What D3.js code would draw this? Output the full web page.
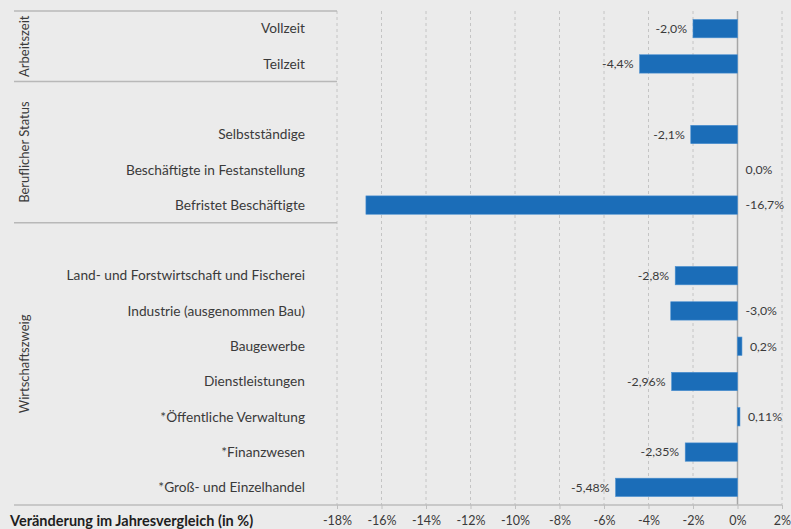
<!DOCTYPE html>
<html><head><meta charset="utf-8">
<script src="https://cdn.jsdelivr.net/npm/d3@7"></script>
<style>
html,body{margin:0;padding:0;background:#ebebeb;}
svg{display:block;font-family:Lato,"Open Sans",sans-serif;}
</style></head><body>
<svg id="c" width="791" height="529"></svg>
<script>
// ---- data ----
const categories = ["Vollzeit","Teilzeit","","Selbstständige","Beschäftigte in Festanstellung","Befristet Beschäftigte","","Land- und Forstwirtschaft und Fischerei","Industrie (ausgenommen Bau)","Baugewerbe","Dienstleistungen","*Öffentliche Verwaltung","*Finanzwesen","*Groß- und Einzelhandel"];
const values = [-2.0,-4.4,null,-2.1,0.0,-16.7,null,-2.8,-3.0,0.2,-2.96,0.11,-2.35,-5.48];
const valueLabels = ["-2,0%","-4,4%","","-2,1%","0,0%","-16,7%","","-2,8%","-3,0%","0,2%","-2,96%","0,11%","-2,35%","-5,48%"];
const labelSide = ["left","left","","left","right","right","","left","right","right","left","right","left","left"];
const groups = [
  {name:"Arbeitszeit", from:0, to:1},
  {name:"Beruflicher Status", from:2, to:5},
  {name:"Wirtschaftszweig", from:6, to:13}
];
const xTicks = [-18,-16,-14,-12,-10,-8,-6,-4,-2,0,2];
const xTickLabels = ["-18%","-16%","-14%","-12%","-10%","-8%","-6%","-4%","-2%","0%","2%"];
const axisTitle = "Veränderung im Jahresvergleich (in %)";

// ---- layout ----
const svg = d3.select("#c");
const x = d3.scaleLinear().domain([-18,2]).range([337,782]);
const idx = d3.range(categories.length);
const y = d3.scaleBand().domain(idx).range([11,505]).paddingInner(0.48).paddingOuter(0.24);
const band = d3.scaleBand().domain(idx).range([11,505]);
const textCol = "#3a3a3a";

// grid lines
svg.append("g").selectAll("line").data(xTicks).join("line")
  .attr("x1",d=>x(d)).attr("x2",d=>x(d)).attr("y1",11).attr("y2",505)
  .attr("stroke",d=>d===0?"#a6a6a6":"#c4c4c4")
  .attr("stroke-width",d=>d===0?1.5:1)
  .attr("stroke-dasharray",d=>d===0?null:"3,3");

// group separators
const sepYs = [11].concat(groups.slice(0,-1).map(g=>band(g.to)+band.bandwidth()));
svg.append("g").selectAll("line").data(sepYs).join("line")
  .attr("x1",14).attr("x2",337).attr("y1",d=>d).attr("y2",d=>d)
  .attr("stroke","#b8b8b8").attr("stroke-width",1.5);

// x axis
const ax = svg.append("g").attr("transform","translate(0,505)")
  .call(d3.axisBottom(x).tickValues(xTicks).tickFormat((d,i)=>xTickLabels[i]).tickSize(4).tickSizeOuter(0));
ax.select(".domain").remove();
ax.selectAll(".tick line").attr("stroke","#bfbfbf");
ax.selectAll(".tick text").attr("fill",textCol).attr("font-size",12.5).attr("font-family","Lato,sans-serif").attr("dy","1.05em");
svg.append("line").attr("x1",14).attr("x2",782).attr("y1",505).attr("y2",505).attr("stroke","#bdbdbd").attr("stroke-width",1.5);

// axis title
svg.append("text").attr("x",10).attr("y",526).attr("font-weight","bold").attr("font-size",14.5).attr("fill","#1e1e1e").text(axisTitle);

// category labels
svg.append("g").selectAll("text").data(idx.filter(i=>categories[i])).join("text")
  .attr("x",305).attr("y",i=>band(i)+band.bandwidth()/2).attr("dy","0.35em")
  .attr("text-anchor","end").attr("font-size",13.7).attr("fill",textCol).text(i=>categories[i]);

// group labels
svg.append("g").selectAll("text").data(groups).join("text")
  .attr("transform",g=>`translate(29,${(band(g.from)+band(g.to)+band.bandwidth())/2}) rotate(-90)`)
  .attr("text-anchor","middle").attr("font-size",13).attr("fill",textCol).text(g=>g.name);

// bars
const valid = idx.filter(i=>values[i]!==null);
svg.append("g").selectAll("rect").data(valid).join("rect")
  .attr("x",i=>x(Math.min(0,values[i]))).attr("width",i=>Math.abs(x(values[i])-x(0)))
  .attr("y",i=>y(i)).attr("height",y.bandwidth())
  .attr("fill","#1b6db8").attr("stroke","#4a8fd0").attr("stroke-width",0.6);

// value labels
svg.append("g").selectAll("text").data(valid).join("text")
  .attr("x",i=>labelSide[i]==="left" ? x(values[i])-6 : x(Math.max(0,values[i]))+8)
  .attr("y",i=>band(i)+band.bandwidth()/2).attr("dy","0.35em")
  .attr("text-anchor",i=>labelSide[i]==="left"?"end":"start")
  .attr("font-size",12.3).attr("fill",textCol).text(i=>valueLabels[i]);
</script>
</body></html>
